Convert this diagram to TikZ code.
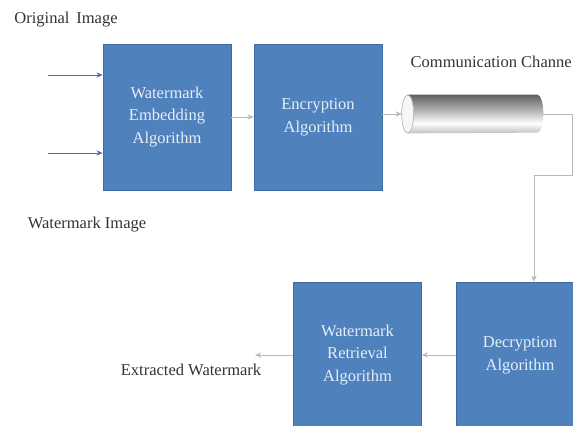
\documentclass[tikz,border=0pt]{standalone}
\usepackage{fontspec}
\setmainfont{Liberation Serif}[Ligatures=TeX]
\usetikzlibrary{arrows.meta}
\definecolor{boxblue}{HTML}{4F81BD}
\definecolor{boxedge}{HTML}{3F6C9F}
\definecolor{boxtext}{HTML}{E6EEF8}
\definecolor{inline}{HTML}{4A6E9E}
\pgfdeclareverticalshading{chanshade}{100bp}{%
  color(0bp)=(gray!50); color(25bp)=(gray!50); color(38bp)=(white);
  color(52bp)=(gray!50); color(75bp)=(gray!75!black); color(100bp)=(gray!75!black)}
\tikzset{
  >={Stealth[length=3.5pt,width=3pt]},
  algo/.style={rectangle,draw=boxedge,fill=boxblue,text=boxtext,
    minimum width=2.56cm,minimum height=2.92cm,align=center,
    font=\fontsize{9.4}{13}\selectfont},
  lbl/.style={font=\fontsize{9.4}{11}\selectfont,text=black!80},
  feed/.style={->,draw=gray!55,thin},
  inlink/.style={->,draw=inline,thin}
}

\begin{document}
\begin{tikzpicture}[x=0.02cm,y=0.02cm]
  \useasboundingbox (0,0) rectangle (573,425);
  \clip (0,0) rectangle (573,425);

  %--- Sender side -------------------------------------------------------------
  \node[algo] (emb) at (167,308) {Watermark\\Embedding\\Algorithm};
  \node[algo] (enc) at (318,308) {Encryption\\Algorithm};
  \node[lbl] (orig)  at (66,405) {Original\, Image};
  \node[lbl] (wmimg) at (87,200) {Watermark Image};

  \coordinate (in1) at (48,350);
  \coordinate (in2) at (48,272);
  \draw[inlink] (in1) -- (in1 -| emb.west);
  \draw[inlink] (in2) -- (in2 -| emb.west);
  \draw[feed] (emb) -- (enc);

  %--- Channel -----------------------------------------------------------------
  \node[rectangle,minimum width=2.82cm,minimum height=0.76cm,inner sep=0pt]
       (chan) at (472.5,311) {};
  \shade[shading=chanshade]
    ([xshift=0.12cm]chan.north west) -- ([xshift=-0.12cm]chan.north east)
    arc (90:-90:0.12cm and 0.38cm) -- ([xshift=0.12cm]chan.south west)
    arc (270:90:0.12cm and 0.38cm) -- cycle;
  \draw[draw=gray!55,fill=gray!6] ([xshift=0.12cm]chan.west)
    ellipse (0.12cm and 0.38cm);
  \node[lbl,anchor=east,inner xsep=0pt] (chanlbl) at (572,363) {Communication Channe};
  \draw[feed] (enc.east |- chan.west) -- (chan.west);

  %--- Receiver side -----------------------------------------------------------
  \node[algo] (dec) at (520,70) {Decryption\\Algorithm};
  \node[algo] (ret) at (357.5,70) {Watermark\\Retrieval\\Algorithm};
  \node[lbl] (extr) at (191,55) {Extracted Watermark};

  \coordinate (bend) at (572,250);
  \draw[feed] (chan.east) -| (bend) -| ([xshift=0.28cm]dec.north);
  \draw[feed] (dec) -- (ret);
  \coordinate (out) at (255,70);
  \draw[feed] (ret.west) -- (out);

\end{tikzpicture}
\end{document}
